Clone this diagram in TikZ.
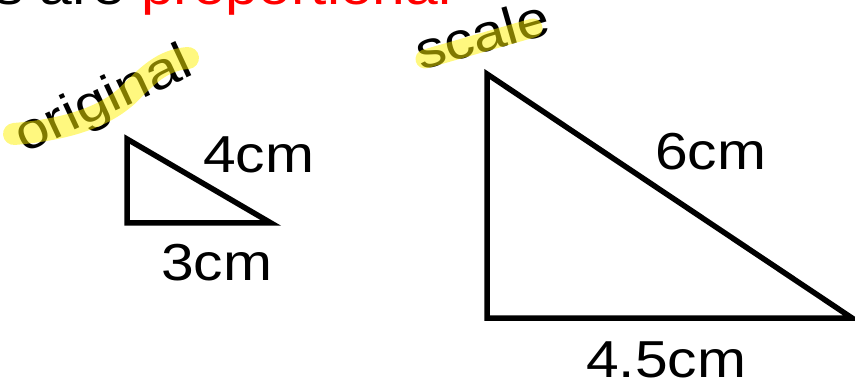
\documentclass[tikz,border=0pt]{standalone}
\usepackage{fontspec}
\setmainfont{Liberation Sans}
\usepackage{graphicx}
\begin{document}
\begin{tikzpicture}[x=1pt,y=-1pt,
  lbl/.style={inner sep=0pt, outer sep=0pt, font=\fontsize{52}{60}\selectfont},
  tri/.style={draw=black, line width=5.5pt, line join=miter},
  hl/.style={draw=yellow, opacity=0.5, line cap=round, line join=round}]
\useasboundingbox (0,0) rectangle (855,385);
\clip (0,0) rectangle (855,385);
% title (cut off at top)
\node[lbl, anchor=base east] (t1) at (125,5) {\scalebox{1.13}[1]{Sides are}};
\node[lbl, anchor=base west, text=red] (t2) at (141,5) {\scalebox{1.13}[1]{proportional}};
% small triangle
\coordinate (a1) at (127,139);
\coordinate (b1) at (127,223);
\coordinate (c1) at (271,223);
\draw[tri] (a1) -- (b1) -- (c1) -- cycle;
% large triangle
\coordinate (a2) at (487,74);
\coordinate (b2) at (487,318);
\coordinate (c2) at (852,318);
\draw[tri] (a2) -- (b2) -- (c2) -- cycle;
% labels
\node[lbl, anchor=base west] (l4) at (203,173) {\scalebox{1.13}[1]{4cm}};
\node[lbl, anchor=base west] (l3) at (161,280) {\scalebox{1.13}[1]{3cm}};
\node[lbl, anchor=base west] (l6) at (655,170) {\scalebox{1.13}[1]{6cm}};
\node[lbl, anchor=base west] (l45) at (586,377) {\scalebox{1.13}[1]{4.5cm}};
% rotated words
\node[lbl, anchor=base west, rotate=25] (orig) at (24,154) {\scalebox{1.13}[1]{original}};
\node[lbl, anchor=base west, rotate=16] (scl) at (421,71) {\scalebox{1.13}[1]{scale}};
% highlights
\draw[hl, line width=22pt] (14,134) .. controls (60,130) and (100,120) .. (127,96)
  .. controls (147,76) and (162,60) .. (188,58);
\draw[hl, line width=19pt] (425,59) -- (533,28);
\end{tikzpicture}
\end{document}
